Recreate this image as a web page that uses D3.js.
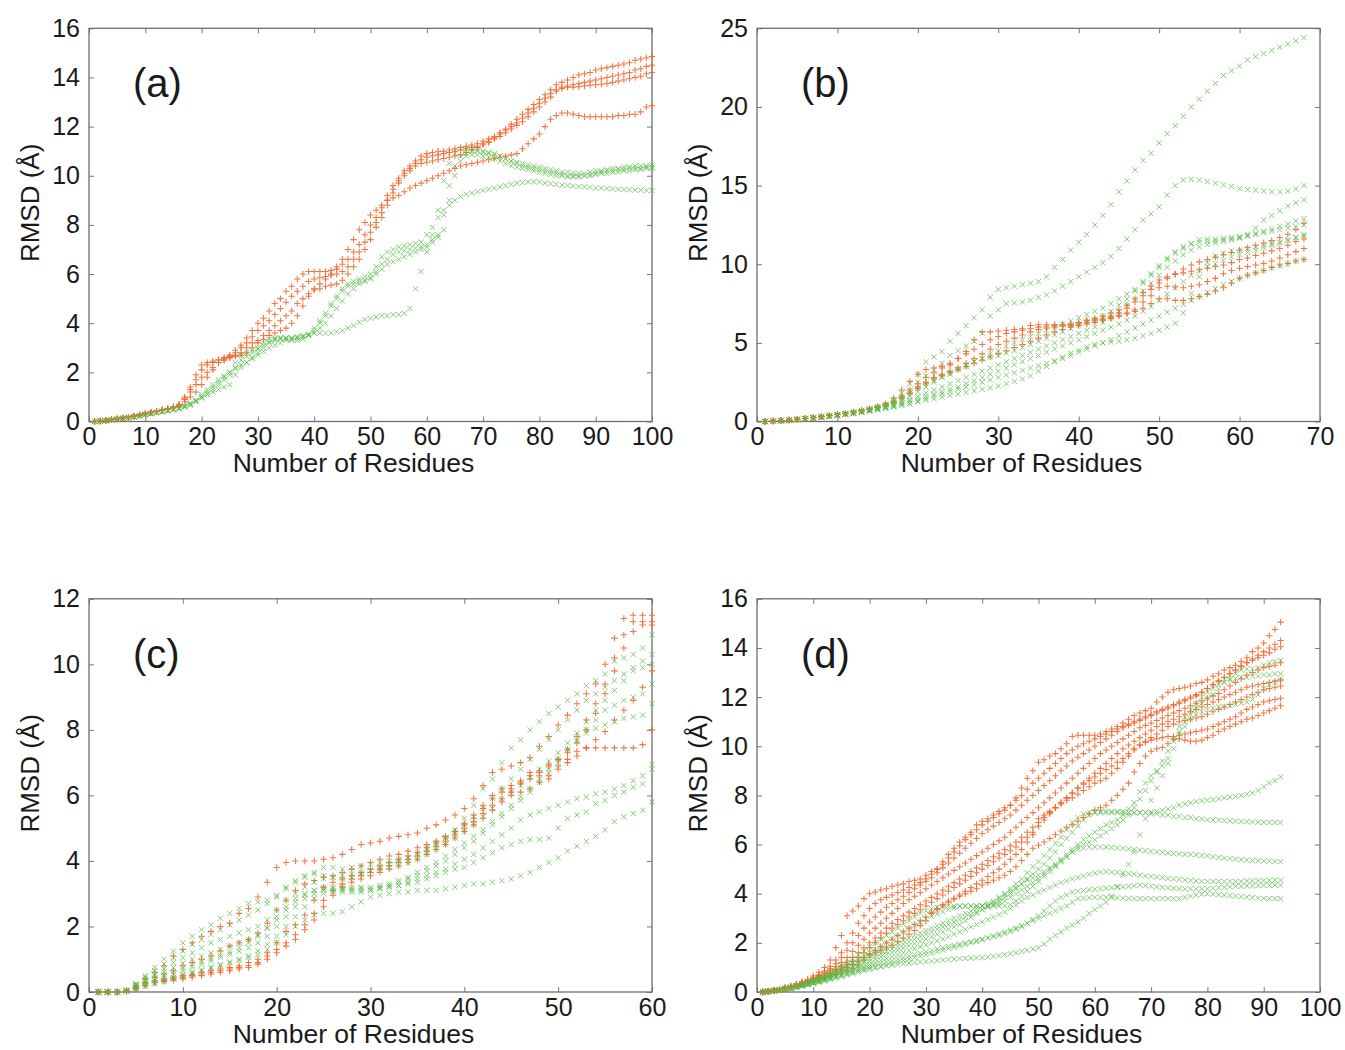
<!DOCTYPE html>
<html>
<head>
<meta charset="utf-8">
<script src="https://cdn.jsdelivr.net/npm/d3@7"></script>
<style>
  body { margin: 0; background: #fff; }
  svg { display: block; }
  text { font-family: "Liberation Sans", Arial, Helvetica, sans-serif; fill: #1a1a1a; }
  .axis .domain { display: none; }
  .axis line { stroke: #777; stroke-width: 1; }
  .axis text { font-size: 25px; fill: #1a1a1a; }
</style>
</head>
<body>
<svg id="chart" width="1345" height="1050"></svg>
<script>
// RMSD values per residue (index 0 = residue 1)

// ---- panel (a) ----
var aTicksX = [0,10,20,30,40,50,60,70,80,90,100];
var aTicksY = [0,2,4,6,8,10,12,14,16];
var aO1 = [0,0.02,0.05,0.08,0.1,0.14,0.18,0.23,0.28,0.33,
0.38,0.43,0.48,0.53,0.6,0.7,1.0,1.4,1.9,2.3,
2.4,2.45,2.5,2.6,2.7,2.9,3.1,3.4,3.7,4.0,
4.2,4.5,4.8,5.0,5.3,5.5,5.8,6.0,6.1,6.1,
6.1,6.1,6.15,6.2,6.4,6.6,6.9,7.2,7.6,8.0,
8.3,8.7,9.2,9.6,9.9,10.2,10.4,10.6,10.8,10.9,
10.95,11.0,11.0,11.05,11.1,11.15,11.2,11.25,11.3,11.4,
11.5,11.6,11.75,11.9,12.1,12.3,12.5,12.7,12.9,13.1,
13.3,13.5,13.7,13.8,13.9,14.0,14.1,14.15,14.2,14.3,
14.35,14.4,14.45,14.5,14.55,14.6,14.7,14.75,14.8,14.85];
var aO2 = [0,0.02,0.04,0.07,0.1,0.13,0.17,0.21,0.26,0.31,
0.36,0.41,0.46,0.51,0.57,0.65,0.9,1.2,1.5,1.8,
2.0,2.2,2.4,2.5,2.6,2.7,2.8,3.0,3.2,3.3,
3.5,3.7,3.9,4.1,4.3,4.5,4.8,5.0,5.2,5.35,
5.4,5.5,5.55,5.6,5.75,6.0,6.3,6.6,7.0,7.4,
7.9,8.3,8.8,9.3,9.7,10.0,10.2,10.4,10.5,10.55,
10.6,10.65,10.7,10.75,10.8,10.85,10.95,11.05,11.15,11.25,
11.35,11.5,11.6,11.75,11.9,12.05,12.2,12.4,12.6,12.8,
13.0,13.2,13.45,13.6,13.65,13.7,13.75,13.8,13.85,13.9,
13.95,14.0,14.05,14.1,14.15,14.2,14.3,14.35,14.45,14.5];
var aO3 = [0,0.02,0.04,0.07,0.1,0.13,0.16,0.2,0.25,0.3,
0.35,0.4,0.45,0.5,0.55,0.6,0.8,1.0,1.2,1.5,
1.8,2.1,2.4,2.5,2.6,2.65,2.7,2.8,3.0,3.2,
3.35,3.5,3.6,3.7,3.8,4.0,4.3,4.7,5.1,5.4,
5.6,5.8,6.0,6.3,6.6,7.0,7.4,7.8,8.1,8.4,
8.6,8.8,9.0,9.1,9.2,9.35,9.5,9.6,9.7,9.8,
9.9,10.0,10.1,10.2,10.3,10.4,10.45,10.5,10.55,10.6,
10.65,10.7,10.75,10.8,10.85,10.9,11.1,11.3,11.5,11.7,
12.0,12.3,12.45,12.55,12.55,12.5,12.45,12.4,12.4,12.4,
12.4,12.4,12.4,12.45,12.45,12.5,12.5,12.6,12.8,12.85];
var aO4 = [0,0.02,0.05,0.08,0.11,0.14,0.18,0.22,0.27,0.32,
0.37,0.42,0.47,0.52,0.58,0.68,0.95,1.3,1.7,2.1,
2.3,2.4,2.5,2.55,2.65,2.8,3.0,3.2,3.45,3.7,
3.9,4.1,4.35,4.6,4.85,5.1,5.3,5.5,5.7,5.8,
5.85,5.9,5.95,6.0,6.1,6.3,6.6,6.9,7.3,7.7,
8.1,8.5,9.0,9.45,9.8,10.1,10.3,10.5,10.65,10.75,
10.8,10.85,10.9,10.95,11.0,11.05,11.1,11.15,11.2,11.3,
11.4,11.55,11.7,11.85,12.0,12.15,12.35,12.55,12.75,12.95,
13.15,13.35,13.5,13.55,13.6,13.6,13.62,13.65,13.68,13.7,
13.72,13.75,13.8,13.85,13.9,13.95,14.0,14.05,14.15,14.2];
var aG1 = [0,0.02,0.04,0.07,0.1,0.13,0.16,0.2,0.25,0.3,
0.34,0.38,0.42,0.46,0.5,0.55,0.62,0.7,0.85,1.0,
1.2,1.4,1.6,1.8,2.0,2.4,2.7,2.8,2.9,3.0,
3.2,3.35,3.4,3.4,3.35,3.3,3.3,3.35,3.5,3.8,
4.1,4.4,4.8,5.1,5.4,5.6,5.7,5.8,5.9,6.0,
6.3,6.7,6.9,7.0,7.1,7.15,7.2,7.25,7.3,7.6,
7.9,8.6,9.8,10.5,10.9,11.1,11.1,11.1,11.05,11.0,
10.95,10.9,10.8,10.7,10.6,10.5,10.4,10.35,10.3,10.25,
10.2,10.15,10.1,10.05,10.0,10.0,10.0,10.0,10.05,10.1,
10.15,10.2,10.2,10.25,10.25,10.3,10.3,10.3,10.35,10.35];
var aG2 = [0,0.02,0.04,0.06,0.09,0.12,0.15,0.19,0.23,0.28,
0.32,0.36,0.4,0.44,0.48,0.52,0.6,0.7,0.85,1.1,
1.3,1.5,1.7,1.85,2.0,2.15,2.3,2.4,2.55,2.7,
2.85,3.0,3.1,3.2,3.3,3.35,3.4,3.45,3.5,3.6,
3.8,4.0,4.3,4.6,4.9,5.2,5.4,5.6,5.7,5.8,
6.1,6.4,6.6,6.8,6.9,6.95,7.0,7.05,7.1,7.2,
7.4,7.6,8.4,9.6,10.4,10.8,10.9,11.0,11.0,10.95,
10.9,10.85,10.8,10.7,10.6,10.55,10.5,10.45,10.4,10.35,
10.3,10.25,10.2,10.15,10.15,10.1,10.1,10.1,10.15,10.2,
10.2,10.25,10.3,10.3,10.35,10.35,10.4,10.4,10.4,10.45];
var aG3 = [0,0.02,0.03,0.06,0.08,0.11,0.14,0.18,0.22,0.27,
0.31,0.35,0.39,0.43,0.47,0.52,0.58,0.66,0.8,0.95,
1.1,1.3,1.5,1.7,1.9,2.2,2.5,2.65,2.8,2.95,
3.1,3.25,3.35,3.4,3.4,3.4,3.4,3.45,3.55,3.7,
4.0,4.3,4.7,5.0,5.3,5.5,5.6,5.7,5.75,5.85,
6.0,6.2,6.4,6.5,6.6,6.7,6.8,6.9,7.0,7.1,
7.3,7.5,7.8,9.0,10.0,10.6,10.8,10.85,10.85,10.8,
10.75,10.7,10.6,10.5,10.4,10.35,10.3,10.25,10.2,10.15,
10.1,10.05,10.0,10.0,9.95,9.95,9.95,10.0,10.0,10.05,
10.1,10.1,10.15,10.15,10.2,10.2,10.25,10.25,10.3,10.3];
var aG4 = [0,0.02,0.04,0.07,0.1,0.13,0.16,0.2,0.24,0.29,
0.33,0.37,0.41,0.45,0.5,0.55,0.65,0.75,0.85,1.0,
1.1,1.2,1.3,1.4,1.5,1.9,2.2,2.4,2.6,2.8,
3.0,3.2,3.3,3.35,3.4,3.4,3.45,3.5,3.55,3.6,
3.6,3.6,3.6,3.65,3.7,3.8,3.9,4.05,4.15,4.2,
4.25,4.3,4.3,4.35,4.35,4.4,4.6,5.4,6.1,6.9,
7.6,8.3,8.6,8.8,9.0,9.15,9.25,9.3,9.35,9.4,
9.45,9.5,9.55,9.6,9.65,9.7,9.72,9.75,9.75,9.75,
9.7,9.68,9.65,9.62,9.6,9.58,9.56,9.55,9.53,9.5,
9.5,9.48,9.46,9.45,9.44,9.43,9.42,9.41,9.4,9.4];

// ---- panel (b) ----
var bTicksX = [0,10,20,30,40,50,60,70];
var bTicksY = [0,5,10,15,20,25];
var bO1 = [0,0.03,0.06,0.1,0.14,0.19,0.25,0.31,0.38,0.45,
0.52,0.6,0.7,0.8,0.95,1.15,1.5,2.0,2.55,3.0,
3.3,3.4,3.5,3.6,4.0,4.45,5.2,5.7,5.7,5.75,
5.8,5.85,5.9,6.1,6.15,6.15,6.15,6.15,6.15,6.3,
6.45,6.5,6.5,6.6,6.75,6.9,7.1,7.6,8.0,8.5,
8.6,8.55,8.5,8.6,8.7,8.9,9.1,9.4,9.6,9.75,
9.85,9.95,10.05,10.2,10.4,10.6,10.8,11.0];
var bO2 = [0,0.03,0.06,0.1,0.14,0.19,0.24,0.3,0.36,0.43,
0.5,0.58,0.67,0.77,0.88,1.0,1.2,1.5,1.8,2.1,
2.4,2.7,2.9,3.1,3.3,3.5,3.7,3.9,4.1,4.3,
4.5,4.7,4.9,5.1,5.3,5.5,5.7,5.85,6.0,6.1,
6.2,6.3,6.4,6.55,6.7,6.85,7.0,7.2,7.5,7.8,
7.8,7.7,7.7,7.8,7.95,8.1,8.3,8.5,8.8,9.1,
9.3,9.45,9.6,9.8,9.95,10.05,10.2,10.3];
var bO3 = [0,0.03,0.06,0.1,0.14,0.19,0.25,0.31,0.38,0.45,
0.52,0.6,0.69,0.79,0.9,1.05,1.3,1.6,2.0,2.4,
2.8,3.1,3.4,3.7,4.0,4.3,4.6,4.9,5.2,5.4,
5.6,5.7,5.8,5.9,6.0,6.05,6.1,6.15,6.2,6.3,
6.4,6.55,6.7,6.9,7.1,7.4,7.8,8.2,8.6,9.0,
9.2,9.35,9.45,9.55,9.65,9.75,9.85,9.95,10.1,10.3,
10.4,10.55,10.7,10.85,11.0,11.2,11.45,11.6];
var bO4 = [0,0.03,0.06,0.1,0.14,0.19,0.24,0.3,0.37,0.44,
0.51,0.59,0.68,0.78,0.9,1.05,1.25,1.5,1.8,2.2,
2.5,2.8,3.0,3.2,3.4,3.7,4.0,4.3,4.6,4.9,
5.1,5.3,5.5,5.7,5.85,5.95,6.0,6.05,6.1,6.2,
6.3,6.4,6.5,6.7,6.9,7.2,7.6,8.0,8.4,8.8,
9.1,9.4,9.7,9.95,10.15,10.3,10.45,10.6,10.75,10.9,
11.05,11.2,11.35,11.5,11.7,11.9,12.2,12.6];
var bG1 = [0,0.03,0.06,0.1,0.14,0.19,0.25,0.31,0.38,0.45,
0.52,0.6,0.7,0.8,0.95,1.1,1.4,1.8,2.4,3.0,
3.8,4.1,4.45,5.1,5.6,6.1,6.6,7.1,7.9,8.4,
8.5,8.6,8.7,8.8,8.9,9.2,9.8,10.3,10.9,11.4,
11.9,12.5,13.1,13.8,14.6,15.3,16.0,16.6,17.05,17.7,
18.3,18.8,19.4,20.0,20.5,21.0,21.5,22.0,22.3,22.6,
23.0,23.2,23.4,23.6,23.8,24.0,24.2,24.4];
var bG2 = [0,0.03,0.06,0.1,0.14,0.19,0.24,0.3,0.37,0.44,
0.51,0.59,0.68,0.78,0.9,1.05,1.3,1.6,2.0,2.5,
2.9,3.3,3.7,4.2,4.5,4.8,5.1,5.6,6.7,7.1,
7.5,7.55,7.6,7.7,7.9,8.05,8.3,8.6,8.9,9.2,
9.5,9.8,10.1,10.5,11.0,11.6,12.2,12.8,13.2,13.65,
14.4,15.0,15.35,15.4,15.35,15.25,15.15,15.05,14.95,14.8,
14.75,14.7,14.65,14.6,14.6,14.65,14.8,15.0];
var bG3 = [0,0.03,0.06,0.1,0.14,0.18,0.23,0.29,0.35,0.42,
0.49,0.56,0.64,0.73,0.83,0.95,1.1,1.3,1.6,1.9,
2.2,2.5,2.8,3.0,3.3,3.5,3.8,4.0,4.3,4.5,
4.8,5.0,5.2,5.4,5.6,5.8,6.0,6.2,6.4,6.6,
6.8,7.0,7.2,7.5,7.8,8.1,8.4,8.9,9.4,9.9,
10.4,10.8,11.1,11.3,11.4,11.45,11.5,11.55,11.6,11.7,
11.9,12.3,12.8,13.1,13.4,13.7,13.9,14.1];
var bG4 = [0,0.03,0.06,0.09,0.13,0.17,0.22,0.28,0.34,0.41,
0.48,0.55,0.63,0.72,0.82,0.93,1.05,1.2,1.4,1.6,
1.8,2.0,2.2,2.4,2.6,2.8,3.0,3.2,3.4,3.6,
3.8,4.0,4.2,4.4,4.6,4.8,5.0,5.2,5.4,5.6,
5.8,6.0,6.3,6.6,7.0,7.4,7.8,8.3,8.8,9.3,
9.8,10.2,10.6,10.9,11.1,11.25,11.35,11.45,11.55,11.65,
11.8,11.95,12.1,12.25,12.4,12.55,12.75,12.9];
var bG5 = [0,0.03,0.05,0.08,0.12,0.16,0.21,0.27,0.33,0.4,
0.47,0.54,0.62,0.71,0.8,0.9,1.0,1.15,1.3,1.45,
1.6,1.75,1.9,2.05,2.2,2.4,2.6,2.8,3.0,3.2,
3.4,3.6,3.8,4.0,4.2,4.4,4.6,4.8,5.0,5.2,
5.4,5.6,5.8,6.0,6.2,6.45,6.7,7.0,7.3,7.7,
8.1,8.5,8.9,9.3,9.6,9.85,10.05,10.25,10.45,10.6,
10.75,10.9,11.05,11.2,11.35,11.5,11.7,11.9];
var bG6 = [0,0.03,0.05,0.08,0.11,0.15,0.2,0.25,0.31,0.37,
0.44,0.5,0.57,0.65,0.73,0.82,0.92,1.02,1.12,1.25,
1.35,1.45,1.55,1.65,1.75,1.85,1.95,2.05,2.15,2.25,
2.4,2.55,2.7,2.9,3.2,3.5,3.8,4.1,4.35,4.55,
4.75,4.9,5.0,5.05,5.1,5.2,5.3,5.45,5.6,5.8,
6.0,6.25,6.9,8.15,9.2,10.1,10.5,10.7,10.85,10.9,
11.0,11.1,11.2,11.3,11.4,11.55,11.7,11.8];
var bG7 = [0,0.03,0.05,0.08,0.12,0.16,0.21,0.26,0.32,0.39,
0.46,0.53,0.6,0.68,0.77,0.86,0.95,1.05,1.15,1.3,
1.45,1.6,1.75,1.9,2.05,2.2,2.35,2.5,2.65,2.8,
2.95,3.1,3.25,3.4,3.55,3.7,3.85,4.0,4.2,4.4,
4.6,4.8,5.0,5.2,5.45,5.7,5.95,6.2,6.45,6.7,
6.95,7.2,7.45,7.7,7.95,8.2,8.45,8.7,8.9,9.1,
9.3,9.45,9.6,9.75,9.9,10.05,10.2,10.3];
var bG8 = [0,0.03,0.06,0.1,0.14,0.19,0.24,0.3,0.37,0.44,
0.51,0.59,0.68,0.78,0.9,1.05,1.25,1.5,1.8,2.1,
2.4,2.6,2.85,3.1,3.35,3.6,3.8,4.0,4.1,4.2,
4.35,4.5,4.7,4.9,5.1,5.3,5.5,5.7,5.9,6.1,
6.3,6.5,6.7,7.0,7.4,7.8,8.3,8.8,9.3,9.8,
10.3,10.7,11.0,11.3,11.55,11.6,11.6,11.65,11.7,11.75,
11.8,11.9,12.0,12.1,12.2,12.3,12.4,12.5];

// ---- panel (c) ----
var cTicksX = [0,10,20,30,40,50,60];
var cTicksY = [0,2,4,6,8,10,12];
var cO1 = [0,0,0,0.05,0.2,0.4,0.6,0.8,1.1,1.3,
1.5,1.7,1.85,2.0,2.1,2.4,2.55,2.9,3.35,3.8,
3.95,4.0,4.0,4.0,4.05,4.1,4.2,4.35,4.5,4.55,
4.6,4.7,4.75,4.8,4.85,5.0,5.1,5.25,5.4,5.6,
5.9,6.3,6.7,6.8,6.9,7.0,7.15,7.5,7.8,8.15,
8.45,8.8,9.1,9.4,10.0,10.8,11.4,11.5,11.5,11.5];
var cO2 = [0,0,0,0.03,0.15,0.3,0.45,0.55,0.65,0.8,
0.9,1.0,1.1,1.25,1.4,1.5,1.6,1.8,2.1,2.5,
2.8,3.1,3.3,3.4,3.5,3.55,3.65,3.75,3.85,3.95,
4.05,4.15,4.2,4.3,4.4,4.5,4.6,4.75,4.9,5.1,
5.3,5.6,5.9,6.1,6.2,6.35,6.5,6.7,6.9,7.1,
7.4,7.8,8.3,8.8,9.4,10.2,10.9,11.3,11.3,11.3];
var cO3 = [0,0,0,0.03,0.12,0.25,0.35,0.4,0.45,0.5,
0.55,0.6,0.65,0.7,0.75,0.8,0.9,1.0,1.2,1.5,
1.85,2.05,2.35,2.8,3.2,3.35,3.45,3.55,3.65,3.75,
3.85,3.95,4.05,4.15,4.25,4.4,4.55,4.7,4.9,5.15,
5.4,5.7,6.0,6.2,6.3,6.45,6.6,6.75,6.95,7.1,
7.3,7.6,8.0,8.5,9.1,9.8,10.5,11.0,11.2,11.2];
var cO4 = [0,0,0,0.03,0.1,0.2,0.3,0.35,0.4,0.45,
0.5,0.55,0.6,0.65,0.7,0.75,0.8,0.9,1.1,1.3,
1.5,1.75,2.05,2.4,2.8,3.1,3.3,3.45,3.55,3.65,
3.75,3.85,3.95,4.05,4.15,4.3,4.45,4.6,4.8,5.0,
5.2,5.45,5.7,5.9,6.0,6.1,6.2,6.4,6.6,6.8,
7.0,7.2,7.45,7.7,7.95,8.3,8.6,8.9,9.3,9.8];
var cO5 = [0,0,0,0.03,0.1,0.2,0.28,0.32,0.36,0.4,
0.45,0.5,0.55,0.6,0.65,0.7,0.75,0.85,1.0,1.2,
1.4,1.6,1.9,2.2,2.6,2.95,3.2,3.35,3.45,3.55,
3.65,3.75,3.85,3.95,4.05,4.2,4.35,4.5,4.7,4.9,
5.1,5.3,5.55,5.8,6.1,6.4,6.7,6.6,6.5,6.9,
7.1,7.35,7.45,7.45,7.45,7.45,7.45,7.45,7.55,8.0];
var cG1 = [0,0,0,0.05,0.25,0.5,0.75,1.0,1.25,1.5,
1.7,1.9,2.05,2.25,2.4,2.55,2.7,2.75,2.8,2.9,
3.15,3.35,3.5,3.65,3.8,3.8,3.75,3.8,3.85,3.9,
3.95,4.0,4.05,4.1,4.2,4.35,4.5,4.7,4.95,5.3,
5.7,6.2,6.5,7.0,7.45,7.7,8.0,8.25,8.5,8.7,
8.9,9.1,9.35,9.5,9.7,10.1,10.2,10.3,10.5,10.9];
var cG2 = [0,0,0,0.05,0.22,0.4,0.55,0.7,0.9,1.05,
1.2,1.35,1.5,1.6,1.7,1.8,1.9,2.0,2.2,2.5,
2.8,3.0,3.2,3.35,3.45,3.5,3.55,3.6,3.65,3.7,
3.75,3.8,3.85,3.95,4.05,4.2,4.35,4.5,4.7,4.9,
5.1,5.35,5.6,5.9,6.1,6.3,6.55,6.8,7.05,7.3,
7.6,7.9,8.25,8.6,8.9,9.2,9.5,9.8,9.9,10.0];
var cG3 = [0,0,0,0.04,0.2,0.35,0.5,0.62,0.75,0.88,
1.0,1.1,1.2,1.3,1.4,1.5,1.6,1.75,1.95,2.2,
2.5,2.75,2.95,3.1,3.2,3.2,3.2,3.2,3.2,3.2,
3.25,3.3,3.4,3.5,3.65,3.8,3.95,4.15,4.35,4.55,
4.75,4.95,5.2,5.45,5.7,5.95,6.2,6.5,6.8,7.1,
7.4,7.7,8.0,8.3,8.6,8.75,8.9,9.0,9.1,9.4];
var cG4 = [0,0,0,0.04,0.18,0.3,0.42,0.52,0.62,0.72,
0.82,0.92,1.02,1.12,1.22,1.35,1.5,1.7,1.95,2.3,
2.6,2.85,3.0,3.1,3.15,3.15,3.15,3.15,3.15,3.15,
3.2,3.25,3.35,3.45,3.55,3.7,3.85,4.0,4.2,4.4,
4.6,4.85,5.1,5.35,5.6,5.85,6.1,6.4,6.7,7.0,
7.4,7.65,7.9,8.05,8.15,8.25,8.35,8.4,8.45,8.8];
var cG5 = [0,0,0,0.04,0.15,0.25,0.35,0.45,0.55,0.65,
0.75,0.85,0.95,1.05,1.15,1.25,1.35,1.5,1.7,2.0,
2.3,2.6,2.85,3.0,3.1,3.1,3.1,3.1,3.1,3.1,
3.15,3.2,3.25,3.35,3.45,3.55,3.65,3.75,3.9,4.05,
4.2,4.4,4.6,4.8,5.0,5.25,5.4,5.5,5.6,5.7,
5.8,5.9,5.95,6.05,6.1,6.2,6.3,6.45,6.6,6.95];
var cG6 = [0,0,0,0.03,0.12,0.2,0.28,0.36,0.44,0.52,
0.6,0.68,0.76,0.84,0.92,1.0,1.1,1.25,1.45,1.7,
2.0,2.3,2.6,2.85,3.0,3.05,3.05,3.05,3.05,3.1,
3.15,3.2,3.25,3.3,3.35,3.45,3.55,3.65,3.75,3.8,
3.95,4.1,4.25,4.4,4.5,4.6,4.65,4.65,4.7,5.0,
5.3,5.4,5.5,5.75,5.85,6.0,6.1,6.25,6.35,6.8];
var cG7 = [0,0,0,0.03,0.1,0.18,0.25,0.32,0.4,0.48,
0.56,0.64,0.72,0.8,0.88,0.96,1.05,1.15,1.3,1.5,
1.75,2.0,2.2,2.35,2.4,2.4,2.45,2.6,2.75,2.9,
2.95,3.0,3.05,3.05,3.1,3.1,3.1,3.15,3.2,3.25,
3.3,3.3,3.35,3.4,3.45,3.55,3.65,3.8,3.95,4.1,
4.3,4.45,4.6,4.75,4.95,5.2,5.35,5.45,5.55,5.8];
var cG8 = [0,0,0,0.05,0.23,0.45,0.65,0.85,1.05,1.25,
1.45,1.6,1.75,1.9,2.05,2.2,2.35,2.5,2.7,2.95,
3.2,3.4,3.55,3.6,3.55,3.5,3.45,3.5,3.6,3.7,
3.8,3.9,4.0,4.1,4.25,4.4,4.55,4.7,4.9,5.1,
5.35,5.6,5.9,6.2,6.5,6.8,7.1,7.4,7.7,8.0,
8.3,8.6,8.9,9.1,9.3,9.5,9.7,9.9,10.1,10.3];

// ---- panel (d) ----
var dTicksX = [0,10,20,30,40,50,60,70,80,90,100];
var dTicksY = [0,2,4,6,8,10,12,14,16];
var dO1 = [0,0.03,0.07,0.12,0.18,0.25,0.33,0.42,0.52,0.65,
0.8,1.0,1.3,1.8,2.3,3.1,3.3,3.5,3.8,4.0,
4.07,4.15,4.2,4.3,4.35,4.4,4.5,4.55,4.6,4.75,
4.9,5.0,5.3,5.6,5.85,6.1,6.3,6.5,6.8,6.95,
7.05,7.2,7.35,7.5,7.6,7.9,8.3,8.7,9.0,9.35,
9.45,9.6,9.7,9.9,10.1,10.4,10.45,10.45,10.45,10.45,
10.5,10.6,10.7,10.8,10.95,11.1,11.25,11.35,11.45,11.55,
11.8,12.0,12.2,12.3,12.35,12.4,12.45,12.55,12.6,12.7,
12.85,12.95,13.1,13.2,13.3,13.45,13.6,13.85,14.0,14.2,
14.5,14.75,15.05];
var dO2 = [0,0.03,0.07,0.12,0.17,0.23,0.3,0.38,0.47,0.58,
0.7,0.85,1.05,1.3,1.6,2.0,2.4,2.8,3.1,3.4,
3.6,3.75,3.85,3.95,4.05,4.15,4.25,4.35,4.45,4.6,
4.8,5.0,5.2,5.45,5.7,5.95,6.2,6.4,6.6,6.8,
6.95,7.1,7.25,7.4,7.6,7.8,8.0,8.25,8.5,8.7,
8.9,9.1,9.3,9.5,9.7,9.85,10.0,10.1,10.2,10.3,
10.4,10.5,10.6,10.7,10.8,10.9,11.0,11.1,11.2,11.3,
11.4,11.5,11.6,11.7,11.8,11.9,12.0,12.1,12.2,12.35,
12.5,12.65,12.8,12.95,13.1,13.25,13.4,13.55,13.7,13.85,
14.0,14.15,14.3];
var dO3 = [0,0.03,0.06,0.11,0.16,0.22,0.29,0.37,0.46,0.56,
0.67,0.8,0.95,1.15,1.4,1.7,2.0,2.3,2.6,2.85,
3.05,3.25,3.45,3.6,3.75,3.9,4.05,4.2,4.35,4.5,
4.65,4.85,5.05,5.25,5.45,5.65,5.85,6.05,6.25,6.45,
6.6,6.75,6.9,7.05,7.2,7.4,7.6,7.8,8.0,8.2,
8.4,8.6,8.8,9.0,9.2,9.4,9.55,9.7,9.85,10.0,
10.15,10.3,10.45,10.6,10.75,10.85,10.95,11.05,11.15,11.25,
11.35,11.45,11.55,11.65,11.75,11.85,11.95,12.05,12.2,12.35,
12.5,12.65,12.8,12.95,13.1,13.25,13.4,13.5,13.6,13.7,
13.8,13.95,14.05];
var dO4 = [0,0.03,0.06,0.1,0.15,0.21,0.28,0.36,0.44,0.53,
0.63,0.75,0.88,1.03,1.2,1.4,1.65,1.9,2.15,2.4,
2.6,2.8,3.0,3.2,3.4,3.6,3.75,3.9,4.05,4.2,
4.35,4.5,4.65,4.8,4.95,5.1,5.25,5.4,5.55,5.7,
5.85,6.0,6.15,6.3,6.5,6.7,6.9,7.1,7.3,7.5,
7.7,7.9,8.1,8.3,8.5,8.7,8.9,9.1,9.3,9.5,
9.7,9.85,10.0,10.15,10.3,10.45,10.6,10.75,10.85,10.95,
11.05,11.15,11.25,11.35,11.45,11.55,11.65,11.75,11.85,11.95,
12.05,12.15,12.3,12.45,12.6,12.75,12.9,13.0,13.1,13.2,
13.25,13.3,13.4];
var dO5 = [0,0.03,0.06,0.1,0.15,0.2,0.27,0.34,0.42,0.5,
0.59,0.69,0.8,0.93,1.07,1.22,1.4,1.6,1.8,2.0,
2.2,2.4,2.6,2.8,2.95,3.1,3.25,3.4,3.55,3.7,
3.85,4.0,4.15,4.3,4.45,4.6,4.75,4.9,5.05,5.2,
5.35,5.5,5.65,5.8,5.95,6.1,6.3,6.5,6.7,6.9,
7.1,7.3,7.5,7.7,7.9,8.1,8.3,8.5,8.7,8.9,
9.1,9.3,9.5,9.7,9.9,10.05,10.2,10.35,10.5,10.65,
10.8,10.9,11.0,11.1,11.2,11.3,11.4,11.5,11.6,11.7,
11.8,11.9,12.0,12.1,12.2,12.3,12.4,12.45,12.5,12.55,
12.6,12.65,12.7];
var dO6 = [0,0.02,0.05,0.09,0.14,0.19,0.25,0.32,0.39,0.47,
0.55,0.64,0.74,0.85,0.97,1.1,1.25,1.4,1.6,1.8,
2.0,2.2,2.4,2.6,2.75,2.9,3.05,3.2,3.35,3.5,
3.65,3.8,3.95,4.1,4.25,4.4,4.55,4.7,4.85,5.0,
5.15,5.3,5.45,5.6,5.75,5.9,6.1,6.3,6.5,6.75,
7.0,7.25,7.5,7.7,7.9,8.1,8.3,8.45,8.6,8.75,
8.9,9.05,9.2,9.35,9.5,9.7,9.9,10.05,10.2,10.35,
10.5,10.65,10.8,10.9,11.0,11.05,11.1,11.15,11.2,11.3,
11.4,11.5,11.6,11.7,11.8,11.9,12.0,12.1,12.2,12.3,
12.35,12.4,12.45];
var dO7 = [0,0.02,0.05,0.09,0.13,0.18,0.24,0.3,0.37,0.44,
0.52,0.6,0.69,0.79,0.9,1.0,1.12,1.25,1.4,1.55,
1.7,1.85,2.0,2.15,2.3,2.45,2.6,2.75,2.9,3.05,
3.2,3.35,3.5,3.65,3.8,3.95,4.1,4.25,4.4,4.55,
4.7,4.85,5.0,5.2,5.4,5.6,5.8,6.1,6.4,7.05,
7.2,7.35,7.5,7.65,7.8,7.9,8.05,8.2,8.35,8.5,
8.6,8.7,8.9,9.1,9.35,9.6,9.85,10.05,10.15,10.25,
10.3,10.35,10.4,10.4,10.45,10.5,10.55,10.6,10.65,10.7,
10.8,10.9,11.0,11.1,11.2,11.35,11.5,11.6,11.7,11.8,
11.85,11.9,11.95];
var dO8 = [0,0.02,0.05,0.08,0.12,0.17,0.22,0.28,0.34,0.41,
0.48,0.55,0.63,0.71,0.8,0.88,0.97,1.1,1.3,1.5,
1.6,1.7,1.8,1.9,2.05,2.2,2.35,2.5,2.7,2.9,
3.25,3.4,3.55,3.7,3.8,3.9,4.0,4.1,4.2,4.35,
4.45,4.55,4.65,4.75,4.9,5.1,5.35,5.6,5.85,5.97,
6.1,6.25,6.4,6.55,6.7,6.8,6.95,7.1,7.25,7.4,
7.5,7.6,7.8,8.0,8.25,8.5,8.95,9.3,9.6,9.8,
9.9,9.95,10.1,10.3,10.3,10.25,10.2,10.2,10.25,10.35,
10.45,10.6,10.7,10.8,10.9,11.0,11.1,11.15,11.25,11.35,
11.45,11.55,11.65];
var dG1 = [0,0.03,0.06,0.1,0.15,0.2,0.26,0.33,0.41,0.5,
0.6,0.7,0.82,0.95,1.08,1.22,1.37,1.52,1.68,1.85,
2.0,2.15,2.3,2.45,2.6,2.75,2.9,3.05,3.2,3.3,
3.4,3.45,3.5,3.5,3.5,3.5,3.5,3.5,3.5,3.5,
3.5,3.55,3.6,3.7,3.85,4.0,4.15,4.3,4.45,4.6,
4.8,5.0,5.2,5.4,5.6,5.8,6.0,6.2,6.35,6.5,
6.65,6.8,6.9,7.0,7.2,7.45,7.7,8.15,8.5,8.8,
8.95,9.2,9.5,10.2,10.6,11.0,11.3,11.55,11.75,11.95,
12.1,12.35,12.6,12.75,12.95,13.1,13.15,13.15,13.2,13.3,
13.4,13.45,13.5];
var dG2 = [0,0.02,0.05,0.08,0.12,0.16,0.21,0.26,0.32,0.38,
0.44,0.5,0.56,0.62,0.68,0.74,0.8,0.86,0.92,0.97,
1.0,1.03,1.06,1.09,1.12,1.15,1.18,1.2,1.22,1.24,
1.26,1.28,1.3,1.32,1.34,1.36,1.37,1.38,1.39,1.4,
1.42,1.45,1.48,1.52,1.56,1.6,1.65,1.7,1.75,1.8,
1.95,2.15,2.3,2.45,2.6,2.72,2.85,3.0,3.2,3.35,
3.5,3.65,3.9,4.3,4.75,5.2,5.7,6.4,7.05,7.8,
8.3,8.8,9.3,9.9,10.5,10.8,11.1,11.3,11.4,11.5,
11.55,11.6,11.6,11.65,11.7,11.75,11.8,11.9,12.1,12.35,
12.5,12.6,12.7];
var dG3 = [0,0.03,0.06,0.1,0.14,0.19,0.25,0.31,0.38,0.46,
0.54,0.63,0.73,0.84,0.96,1.08,1.2,1.33,1.46,1.6,
1.74,1.88,2.02,2.16,2.3,2.44,2.58,2.72,2.85,2.97,
3.08,3.18,3.27,3.35,3.42,3.48,3.5,3.5,3.5,3.5,
3.5,3.5,3.5,3.5,3.55,3.7,3.9,4.1,4.3,4.5,
4.7,4.9,5.1,5.3,5.5,5.7,5.9,6.0,6.1,6.2,
6.35,6.5,6.65,6.8,7.0,7.2,7.5,7.85,8.2,8.6,
9.0,9.4,9.8,10.3,10.8,11.2,11.5,11.75,12.0,12.2,
12.35,12.5,12.6,12.7,12.75,12.8,12.8,12.85,12.85,12.9,
12.9,12.95,12.95];
var dG4 = [0,0.03,0.06,0.1,0.14,0.19,0.24,0.3,0.37,0.45,
0.53,0.62,0.72,0.82,0.93,1.04,1.15,1.26,1.37,1.48,
1.59,1.7,1.8,1.9,2.0,2.1,2.2,2.3,2.4,2.5,
2.6,2.7,2.8,2.9,3.0,3.1,3.2,3.3,3.4,3.5,
3.6,3.7,3.85,4.0,4.2,4.4,4.6,4.85,5.1,5.3,
5.55,5.8,6.05,6.3,6.6,6.9,7.1,7.25,7.3,7.3,
7.3,7.3,7.3,7.3,7.3,7.3,7.3,7.3,7.3,7.32,
7.35,7.4,7.45,7.5,7.6,7.65,7.7,7.75,7.78,7.8,
7.83,7.86,7.9,7.93,7.96,8.0,8.05,8.1,8.2,8.35,
8.5,8.6,8.75];
var dG5 = [0,0.03,0.06,0.09,0.13,0.18,0.23,0.29,0.35,0.42,
0.49,0.57,0.66,0.75,0.85,0.95,1.05,1.15,1.25,1.35,
1.45,1.55,1.65,1.75,1.85,1.95,2.05,2.15,2.25,2.35,
2.45,2.55,2.65,2.75,2.85,2.95,3.05,3.15,3.25,3.35,
3.45,3.55,3.7,3.85,4.0,4.2,4.4,4.6,4.8,5.0,
5.2,5.45,5.7,6.0,6.25,6.5,6.75,7.0,7.2,7.3,
7.35,7.35,7.35,7.35,7.35,7.3,7.3,7.3,7.3,7.25,
7.25,7.2,7.2,7.15,7.15,7.1,7.1,7.05,7.05,7.0,
7.0,7.0,6.98,6.96,6.95,6.94,6.93,6.92,6.91,6.9,
6.9,6.9,6.9];
var dG6 = [0,0.02,0.05,0.09,0.13,0.17,0.22,0.28,0.34,0.41,
0.48,0.55,0.63,0.71,0.8,0.89,0.98,1.07,1.16,1.25,
1.34,1.43,1.52,1.61,1.7,1.79,1.88,1.97,2.06,2.15,
2.25,2.35,2.45,2.55,2.65,2.75,2.9,3.05,3.2,3.35,
3.5,3.65,3.8,3.95,4.1,4.25,4.4,4.55,4.65,4.75,
4.9,5.05,5.15,5.35,5.5,5.7,5.8,5.85,5.9,5.9,
5.9,5.9,5.88,5.86,5.85,5.82,5.8,5.78,5.75,5.72,
5.7,5.68,5.66,5.64,5.62,5.6,5.6,5.58,5.56,5.54,
5.5,5.48,5.45,5.43,5.41,5.39,5.37,5.35,5.34,5.33,
5.32,5.31,5.3];
var dG7 = [0,0.02,0.05,0.08,0.12,0.16,0.21,0.26,0.32,0.38,
0.44,0.51,0.58,0.65,0.72,0.8,0.88,0.96,1.04,1.12,
1.2,1.28,1.36,1.44,1.52,1.6,1.68,1.76,1.84,1.92,
2.0,2.08,2.16,2.25,2.35,2.45,2.55,2.65,2.75,2.85,
2.95,3.05,3.15,3.25,3.4,3.55,3.7,3.85,3.95,4.07,
4.15,4.25,4.35,4.45,4.52,4.6,4.66,4.72,4.78,4.84,
4.88,4.9,4.88,4.86,4.84,4.82,4.8,4.75,4.72,4.7,
4.68,4.65,4.62,4.6,4.58,4.56,4.54,4.52,4.5,4.5,
4.5,4.5,4.5,4.5,4.5,4.5,4.52,4.52,4.53,4.54,
4.54,4.55,4.55];
var dG8 = [0,0.02,0.04,0.07,0.11,0.15,0.2,0.25,0.3,0.36,
0.42,0.48,0.55,0.62,0.69,0.76,0.83,0.9,0.97,1.04,
1.1,1.16,1.22,1.28,1.34,1.4,1.46,1.52,1.58,1.64,
1.7,1.75,1.8,1.85,1.9,1.95,2.0,2.05,2.1,2.15,
2.2,2.25,2.3,2.38,2.46,2.55,2.65,2.8,2.95,3.1,
3.3,3.5,3.7,3.85,3.95,4.07,4.1,4.13,4.16,4.18,
4.2,4.22,4.24,4.26,4.28,4.3,4.32,4.35,4.33,4.3,
4.28,4.26,4.24,4.22,4.2,4.2,4.2,4.2,4.2,4.2,
4.22,4.24,4.26,4.28,4.3,4.3,4.32,4.32,4.33,4.34,
4.34,4.35,4.35];
var dG9 = [0,0.02,0.04,0.07,0.1,0.14,0.18,0.23,0.28,0.33,
0.38,0.44,0.5,0.56,0.62,0.68,0.74,0.8,0.86,0.92,
0.98,1.04,1.1,1.16,1.22,1.28,1.34,1.4,1.46,1.52,
1.58,1.64,1.7,1.76,1.82,1.88,1.94,2.0,2.06,2.12,
2.2,2.28,2.36,2.44,2.52,2.6,2.7,2.8,2.9,3.0,
3.1,3.2,3.3,3.4,3.5,3.65,3.8,3.82,3.84,3.85,
3.85,3.85,3.84,3.83,3.82,3.81,3.8,3.8,3.8,3.8,
3.8,3.8,3.8,3.8,3.8,3.85,3.9,3.95,3.98,4.0,
3.98,3.96,3.94,3.92,3.9,3.88,3.86,3.84,3.82,3.81,
3.8,3.8,3.8];

// chart parameters
var orangeColor = "#f2682f";
var greenColor = "#52bb43";

var panels = [
  {label: "(a)", left: 89, top: 28.3, xMax: 100, yMax: 16, xTicks: aTicksX, yTicks: aTicksY,
   orange: [aO1, aO2, aO3, aO4], green: [aG1, aG2, aG3, aG4]},
  {label: "(b)", left: 757, top: 28.3, xMax: 70, yMax: 25, xTicks: bTicksX, yTicks: bTicksY,
   orange: [bO1, bO2, bO3, bO4], green: [bG1, bG2, bG3, bG4, bG5, bG6, bG7, bG8]},
  {label: "(c)", left: 89, top: 598.8, xMax: 60, yMax: 12, xTicks: cTicksX, yTicks: cTicksY,
   orange: [cO1, cO2, cO3, cO4, cO5], green: [cG1, cG2, cG3, cG4, cG5, cG6, cG7, cG8]},
  {label: "(d)", left: 757, top: 598.8, xMax: 100, yMax: 16, xTicks: dTicksX, yTicks: dTicksY,
   orange: [dO1, dO2, dO3, dO4, dO5, dO6, dO7, dO8], green: [dG1, dG2, dG3, dG4, dG5, dG6, dG7, dG8, dG9]}
];
var plotW = 563;
var plotH = 393.2;

var svg = d3.select("#chart");

var plusPath = "M-3.2,0H3.2M0,-3.2V3.2";
var crossPath = "M-2.6,-2.6L2.6,2.6M-2.6,2.6L2.6,-2.6";

function drawPanel(p) {
  var g = svg.append("g").attr("transform", `translate(${p.left},${p.top})`);

  var x = d3.scaleLinear().domain([0, p.xMax]).range([0, plotW]);
  var y = d3.scaleLinear().domain([0, p.yMax]).range([plotH, 0]);

  // ticks on all four sides, pointing inward
  g.append("g").attr("class", "axis")
    .attr("transform", `translate(0,${plotH})`)
    .call(d3.axisBottom(x).tickValues(p.xTicks).tickSize(-5).tickPadding(6));
  g.append("g").attr("class", "axis")
    .call(d3.axisLeft(y).tickValues(p.yTicks).tickSize(-5).tickPadding(9));
  g.append("g").attr("class", "axis")
    .call(d3.axisTop(x).tickValues(p.xTicks).tickSize(-5).tickFormat(""));
  g.append("g").attr("class", "axis")
    .attr("transform", `translate(${plotW},0)`)
    .call(d3.axisRight(y).tickValues(p.yTicks).tickSize(-5).tickFormat(""));

  // frame
  g.append("rect")
    .attr("width", plotW).attr("height", plotH)
    .attr("fill", "none").attr("stroke", "#6e6e6e").attr("stroke-width", 1.3);

  // orange + markers
  p.orange.forEach(function(s) {
    g.append("g").selectAll("path").data(s).enter().append("path")
      .attr("transform", (d, i) => `translate(${x(i + 1)},${y(d)})`)
      .attr("d", plusPath)
      .attr("stroke", orangeColor)
      .attr("stroke-width", 1.05)
      .attr("opacity", 0.9);
  });

  // green x markers
  p.green.forEach(function(s) {
    g.append("g").selectAll("path").data(s).enter().append("path")
      .attr("transform", (d, i) => `translate(${x(i + 1)},${y(d)})`)
      .attr("d", crossPath)
      .attr("stroke", greenColor)
      .attr("stroke-width", 0.9)
      .attr("opacity", 0.8);
  });

  // panel letter
  g.append("text")
    .attr("x", 44).attr("y", 69)
    .attr("font-size", 40)
    .text(p.label);

  // axis titles
  g.append("text")
    .attr("x", plotW / 2 - 17).attr("y", plotH + 51)
    .attr("text-anchor", "middle")
    .attr("font-size", 26.5)
    .text("Number of Residues");

  g.append("text")
    .attr("transform", "rotate(-90)")
    .attr("x", -(plotH / 2 - 22)).attr("y", -50)
    .attr("text-anchor", "middle")
    .attr("font-size", 26)
    .text("RMSD (Å)");
}

panels.forEach(drawPanel);
</script>
</body>
</html>
